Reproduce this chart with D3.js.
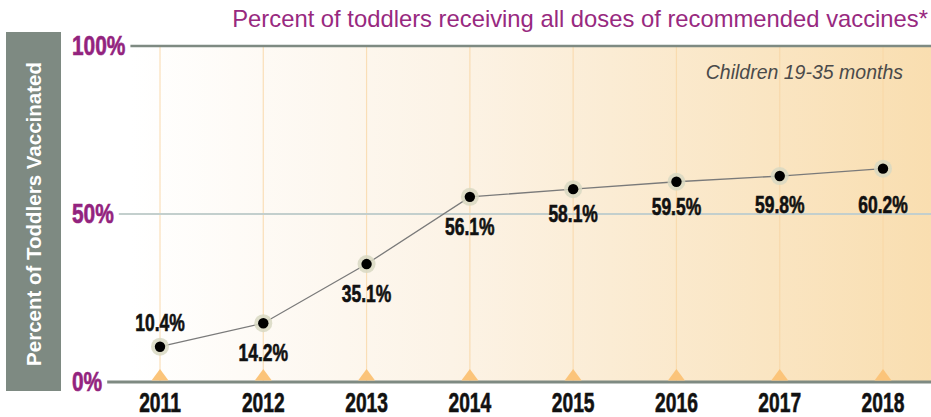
<!DOCTYPE html>
<html>
<head>
<meta charset="utf-8">
<script src="https://cdn.jsdelivr.net/npm/d3@7"></script>
<style>
  html, body { margin: 0; padding: 0; background: #ffffff; }
  svg { display: block; }
</style>
</head>
<body>
<svg id="chart" width="931" height="417"></svg>
<script>
// ---- data ----
const years = ["2011", "2012", "2013", "2014", "2015", "2016", "2017", "2018"];
// plotted marker positions (percent)
const values = [10.5, 17.5, 35.1, 55.1, 57.4, 59.6, 61.3, 63.5];
// printed labels
const labels = ["10.4%", "14.2%", "35.1%", "56.1%", "58.1%", "59.5%", "59.8%", "60.2%"];
// label placement relative to the marker
const labelPos = ["above", "below", "below", "below", "below", "below", "below", "below"];
const yTicks = [0, 50, 100];
const yTickLabels = ["0%", "50%", "100%"];
const title = "Percent of toddlers receiving all doses of recommended vaccines*";
const subtitle = "Children 19-35 months";
const yTitle = "Percent of Toddlers Vaccinated";

// ---- layout ----
const svg = d3.select("#chart");
const plotLeft = 131, plotRight = 931, plotTop = 46, plotBottom = 382;
const sans = "'Liberation Sans', Arial, sans-serif";

const x = d3.scalePoint().domain(years).range([160, 883]);
const y = d3.scaleLinear().domain([0, 100]).range([plotBottom, plotTop]);

// condensed heavy text helper (horizontal squeeze)
function condText(g, tx, ty, str, size, sx, anchor, fill) {
  return g.append("text")
    .attr("transform", `translate(${tx},${ty}) scale(${sx},1)`)
    .attr("text-anchor", anchor).attr("font-family", sans).attr("font-weight", "bold")
    .attr("font-size", size).attr("fill", fill)
    .attr("stroke", fill).attr("stroke-width", 0.6).text(str);
}

// gradient background
const defs = svg.append("defs");
const grad = defs.append("linearGradient").attr("id", "bg").attr("x1", "0%").attr("x2", "100%");
grad.append("stop").attr("offset", "0%").attr("stop-color", "#ffffff");
grad.append("stop").attr("offset", "40%").attr("stop-color", "#fcf3e6");
grad.append("stop").attr("offset", "100%").attr("stop-color", "#f9deb0");
svg.append("rect").attr("x", plotLeft).attr("y", plotTop).attr("width", plotRight - plotLeft)
  .attr("height", plotBottom - plotTop).attr("fill", "url(#bg)");

// vertical year lines
svg.append("g").selectAll("line").data(years).join("line")
  .attr("x1", d => x(d)).attr("x2", d => x(d))
  .attr("y1", plotTop).attr("y2", plotBottom)
  .attr("stroke", "#f8d6a4").attr("stroke-opacity", 0.75).attr("stroke-width", 1.2);

// y title box
svg.append("rect").attr("x", 6).attr("y", 32).attr("width", 55).attr("height", 359).attr("fill", "#7e8a82");
svg.append("text").attr("transform", "translate(41,214) rotate(-90)")
  .attr("text-anchor", "middle").attr("fill", "#ffffff")
  .attr("font-family", sans).attr("font-weight", "bold")
  .attr("font-size", 20.5).text(yTitle);

// y ticks: label + gridline
const tickG = svg.append("g");
yTicks.forEach((t, i) => {
  const ty = y(t);
  const sx = 0.76;
  const lbl = condText(tickG, 72, ty + 9, yTickLabels[i], 27.5, sx, "start", "#93237e");
  const w = lbl.node().getComputedTextLength() * sx;
  const isMid = t === 50;
  tickG.append("line").attr("x1", 72 + w + 5).attr("x2", plotRight)
    .attr("y1", ty).attr("y2", ty)
    .attr("stroke", isMid ? "#c3cfcd" : "#7e8a82")
    .attr("stroke-width", isMid ? 2 : (t === 0 ? 3 : 2.5));
});

// triangles at bottom
svg.append("g").selectAll("path").data(years).join("path")
  .attr("d", d => `M${x(d) - 8.5},${plotBottom - 1.5} L${x(d)},${plotBottom - 13} L${x(d) + 8.5},${plotBottom - 1.5} Z`)
  .attr("fill", "#fbc47a");

// x labels
const xg = svg.append("g");
years.forEach(yr => condText(xg, x(yr), 412, yr, 27.5, 0.7, "middle", "#111111"));

// line
const pts = years.map((yr, i) => ({ yr, v: values[i], label: labels[i], pos: labelPos[i] }));
svg.append("path").datum(pts)
  .attr("d", d3.line().x(d => x(d.yr)).y(d => y(d.v)))
  .attr("fill", "none").attr("stroke", "#7a7a7a").attr("stroke-width", 1.3);

// markers
const mg = svg.append("g");
mg.selectAll("circle.halo").data(pts).join("circle").attr("class", "halo")
  .attr("cx", d => x(d.yr)).attr("cy", d => y(d.v)).attr("r", 9).attr("fill", "#d8d8c2").attr("fill-opacity", 0.85);
mg.selectAll("circle.dot").data(pts).join("circle").attr("class", "dot")
  .attr("cx", d => x(d.yr)).attr("cy", d => y(d.v)).attr("r", 5.2).attr("fill", "#000000");

// value labels
const vg = svg.append("g");
pts.forEach(d => {
  let ly;
  if (d.pos === "above") ly = y(d.v) - 16;
  else if (d.v > 50 && d.yr !== "2014") ly = Math.max(y(d.v) + 33, y(50) - 1);
  else ly = y(d.v) + 38;
  condText(vg, x(d.yr), ly, d.label, 23, 0.76, "middle", "#111111");
});

// title
svg.append("text").attr("x", 928).attr("y", 27).attr("text-anchor", "end")
  .attr("font-family", sans).attr("font-size", 23.8)
  .attr("fill", "#98297f").text(title);

// subtitle
svg.append("text").attr("x", 903).attr("y", 79).attr("text-anchor", "end")
  .attr("font-family", sans).attr("font-style", "italic")
  .attr("font-size", 19.5).attr("fill", "#4a4a4a").text(subtitle);
</script>
</body>
</html>
